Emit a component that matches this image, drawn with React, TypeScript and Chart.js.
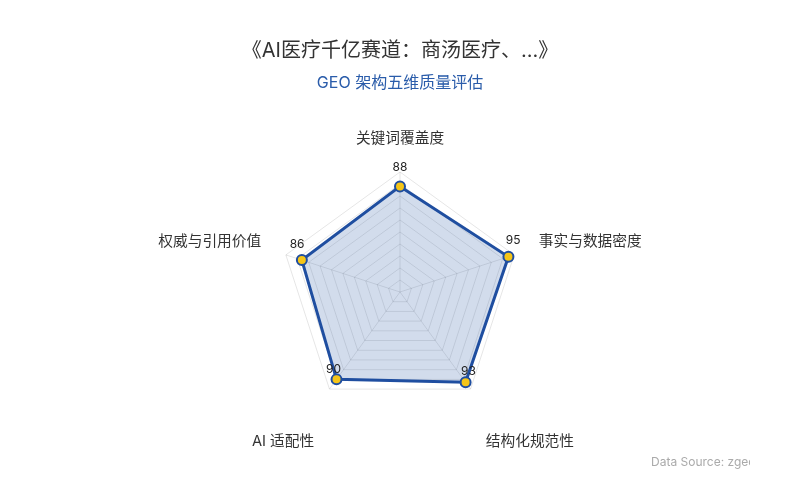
import React, { useEffect, useRef } from 'react';
import { Chart, registerables, Plugin } from 'chart.js';

Chart.register(...registerables);

// --- Datos ---
const dimensions = ['关键词覆盖度', '事实与数据密度', '结构化规范性', 'AI 适配性', '权威与引用价值'];
const scores = [88, 95, 93, 90, 86];

const chartTitle = '《AI医疗千亿赛道：商汤医疗、...》';
const chartSubtitle = 'GEO 架构五维质量评估';
const sourceNote = 'Data Source: zgeo';

const FONT = 'Inter, "Noto Sans CJK SC", sans-serif';
const BLUE = '#1f4ea0';

// Etiquetas de ejes y valores dibujadas con las posiciones de la escala radial
const radarLabels: Plugin<'radar'> = {
  id: 'radarLabels',
  afterDatasetsDraw(chart) {
    const scale: any = chart.scales.r;
    const ctx = chart.ctx;
    ctx.save();

    // nombres de las dimensiones
    ctx.font = `14.7px ${FONT}`;
    ctx.fillStyle = '#333';
    dimensions.forEach((name, i) => {
      const p = scale.getPointPosition(i, scale.drawingArea + 26);
      const dx = p.x - scale.xCenter;
      const dy = p.y - scale.yCenter;
      ctx.textAlign = Math.abs(dx) < 2 ? 'center' : dx > 0 ? 'left' : 'right';
      let y = p.y;
      if (Math.abs(dx) < 2) {
        ctx.textBaseline = 'bottom';
      } else if (dy > 0) {
        ctx.textBaseline = 'top';
        y += 24;
      } else {
        ctx.textBaseline = 'middle';
        y -= 5;
      }
      ctx.fillText(name, p.x, y);
    });

    // valores sobre cada punto
    ctx.font = `12px ${FONT}`;
    ctx.fillStyle = '#222';
    ctx.textAlign = 'center';
    ctx.textBaseline = 'middle';
    scores.forEach((v, i) => {
      const p = scale.getPointPosition(i, scale.getDistanceFromCenterForValue(v) + 5);
      ctx.fillText(String(v), p.x, p.y - 14.5);
    });

    ctx.restore();
  },
};

export default function App() {
  const canvasRef = useRef<HTMLCanvasElement>(null);

  useEffect(() => {
    if (!canvasRef.current) return;
    const chart = new Chart(canvasRef.current, {
      type: 'radar',
      data: {
        labels: dimensions,
        datasets: [
          {
            data: scores,
            borderColor: BLUE,
            borderWidth: 3,
            backgroundColor: 'rgba(31, 78, 160, 0.2)',
            fill: true,
            pointBackgroundColor: '#f5c518',
            pointBorderColor: BLUE,
            pointBorderWidth: 2,
            pointRadius: 5,
          },
        ],
      },
      options: {
        animation: false,
        responsive: true,
        maintainAspectRatio: false,
        layout: { padding: { top: 172, bottom: 88, left: 0, right: 0 } },
        plugins: {
          legend: { display: false },
          tooltip: { enabled: false },
        },
        scales: {
          r: {
            min: 0,
            max: 100,
            ticks: { display: false, stepSize: 10 },
            grid: { color: 'rgba(0, 0, 0, 0.1)' },
            angleLines: { color: 'rgba(0, 0, 0, 0.1)' },
            pointLabels: { display: false },
          },
        },
      },
      plugins: [radarLabels],
    });
    return () => chart.destroy();
  }, []);

  return (
    <div style={{ position: 'absolute', left: 0, top: 0, width: 800, height: 500, background: '#fff', fontFamily: FONT }}>
      <canvas ref={canvasRef}></canvas>
      <div style={{ position: 'absolute', left: 0, width: 800, top: 38, textAlign: 'center', fontSize: 20, color: '#333', lineHeight: '24px' }}>
        {chartTitle}
      </div>
      <div style={{ position: 'absolute', left: 0, width: 800, top: 72, textAlign: 'center', fontSize: 16, color: '#2a5caa', lineHeight: '20px' }}>
        {chartSubtitle}
      </div>
      <div style={{ position: 'absolute', left: 651, top: 453, width: 99, overflow: 'hidden', whiteSpace: 'nowrap', fontSize: 12, color: '#aaa', lineHeight: '18px' }}>
        {sourceNote}
      </div>
    </div>
  );
}
